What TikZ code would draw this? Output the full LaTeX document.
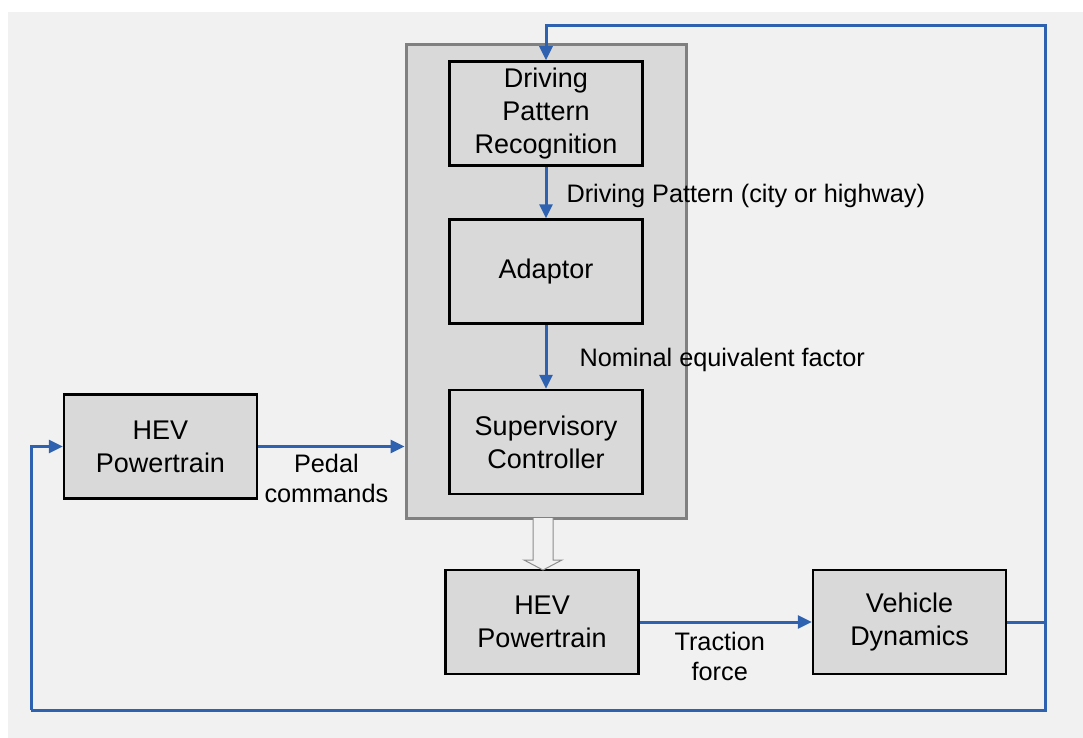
\documentclass[tikz,border=0pt]{standalone}
\usepackage{fontspec}
\setmainfont{Liberation Sans}
\usetikzlibrary{arrows.meta}

\definecolor{bgcol}{HTML}{F1F1F1}
\definecolor{boxcol}{HTML}{D9D9D9}
\definecolor{framecol}{HTML}{808080}
\definecolor{linkcol}{HTML}{2E62B0}

\begin{document}
\begin{tikzpicture}[
		x=1pt, y=-1pt,
		b/.style = {rectangle, draw=black, fill=boxcol, line width=2.5pt, minimum width=193, minimum height=104, align=center, font=\fontsize{27}{33}\selectfont},
		c/.style = {rectangle, draw=framecol, fill=boxcol, line width=3pt, minimum width=280, minimum height=473},
		l/.style = {font=\fontsize{25.3}{30}\selectfont, align=center, inner sep=2pt},
		r/.style = {-{Triangle[length=14pt, width=13pt]}, draw=linkcol, line width=3pt},
		f/.style = {draw=linkcol, line width=3pt},
		h/.style = {draw=gray!90, fill=bgcol, line width=1pt, line join=miter}
		]
		
		\useasboundingbox (0, 0) rectangle (1083, 738);
		\fill[bgcol] (8, 12) rectangle (1083, 738);
		
		% === === Nodes === ===
		\node[c]	(ctrl)	at	(546, 281.5)	{};
		\node[b]	(dpr)	at	(546, 113.5)	{Driving\\Pattern\\Recognition};
		\node[b]	(adp)	at	(546, 271.5)	{Adaptor};
		\node[b]	(sup)	at	(546, 442)		{Supervisory\\Controller};
		
		\node[b]	(hev1)	at	(160.5, 446.5)	{HEV\\Powertrain};
		\node[b]	(hev2)	at	(542, 622)		{HEV\\Powertrain};
		\node[b]	(veh)	at	(909.5, 622)	{Vehicle\\Dynamics};
		
		\coordinate	(rt)	at	(1045, 26);
		\coordinate	(lb)	at	(31, 710);
		
		% === === Lines === ===
		\draw[r]	(dpr.south)		to	node[l, right, xshift=17pt, yshift=-3pt]	{Driving Pattern (city or highway)}	(adp.north);
		\draw[r]	(adp.south)		to	node[l, right, xshift=30pt, yshift=-3pt]	{Nominal equivalent factor}	(sup.north);
		\draw[r]	(hev1.east)		to	node[l, below, xshift=-5pt, yshift=-4pt]	{Pedal\\commands}	(ctrl.west |- hev1.east);
		\draw[r]	(hev2.east)		to	node[l, below, xshift=-6pt, yshift=-7pt]	{Traction\\force}	(veh.west);
		
		\draw[r]	(veh.east)		-|	(rt)	-|	(dpr.north);
		\draw[f]	(rt |- veh.east)	|-	(lb);
		\draw[r]	(lb)	|-	(hev1.west);
		
		% hollow arrow
		\draw[h]	(533, 518) -- (533, 560) -- (524, 560) -- (543, 570) -- (562, 560) -- (553, 560) -- (553, 518);
		
	\end{tikzpicture}
\end{document}
